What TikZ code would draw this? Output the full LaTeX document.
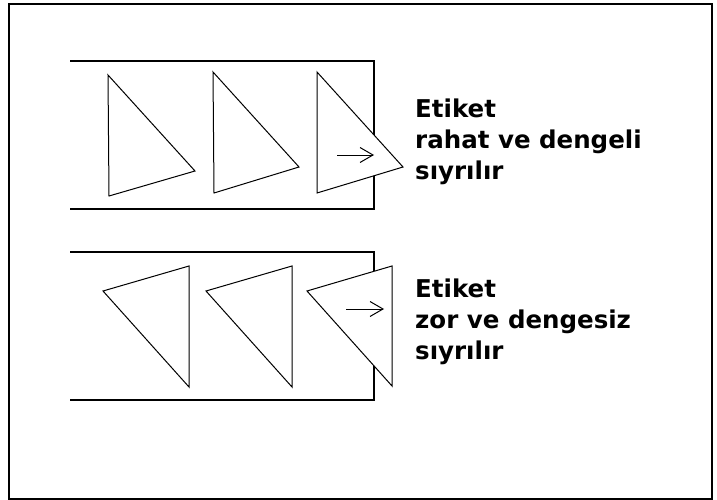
\documentclass[tikz,border=0pt]{standalone}
\usepackage{fontspec}
\setmainfont{DejaVu Sans}
\usetikzlibrary{arrows.meta}

\begin{document}
\begin{tikzpicture}[x=1pt, y=-1pt,
    frame/.style={draw, line width=2pt},
    tray/.style={draw, line width=2pt},
    label/.style={line width=1pt, draw, fill=white, line join=miter},
    push/.style={line width=1pt, -{Straight Barb[length=13pt, width=15pt, line width=1pt]}},
    caption/.style={anchor=north west, inner sep=0pt, align=left,
                    font=\fontsize{24.5}{31}\selectfont\bfseries}]

    \useasboundingbox (0,0) rectangle (717,500);

    % Outer frame
    \draw[frame] (9,4.5) rectangle (711.5,498.5);

    % Trays
    \draw[tray] (70,61) -- (374,61) -- (374,209) -- (70,209);
    \draw[tray] (70,252) -- (374,252) -- (374,400) -- (70,400);

    % Labels, upper tray
    \draw[label] (108,75) -- (195,171) -- (109,196) -- cycle;
    \draw[label] (213,72) -- (299,167) -- (214,193) -- cycle;
    \draw[label] (317,72) -- (403,167) -- (317,193) -- cycle;

    % Labels, lower tray
    \draw[label] (103,291) -- (189,266) -- (189,387) -- cycle;
    \draw[label] (206,291) -- (292,266) -- (292,387) -- cycle;
    \draw[label] (307,291) -- (392,266) -- (392,386) -- cycle;

    % Arrows
    \coordinate (easyA) at (337,155);
    \coordinate (easyB) at (374,155);
    \coordinate (hardA) at (346,309);
    \coordinate (hardB) at (384,309);
    \draw[push] (easyA) -- (easyB);
    \draw[push] (hardA) -- (hardB);

    % Texts
    \node[caption] (easy) at (415,99) {Etiket\\rahat ve dengeli\\sıyrılır};
    \node[caption] (hard) at (415,279) {Etiket\\zor ve dengesiz\\sıyrılır};
\end{tikzpicture}
\end{document}
